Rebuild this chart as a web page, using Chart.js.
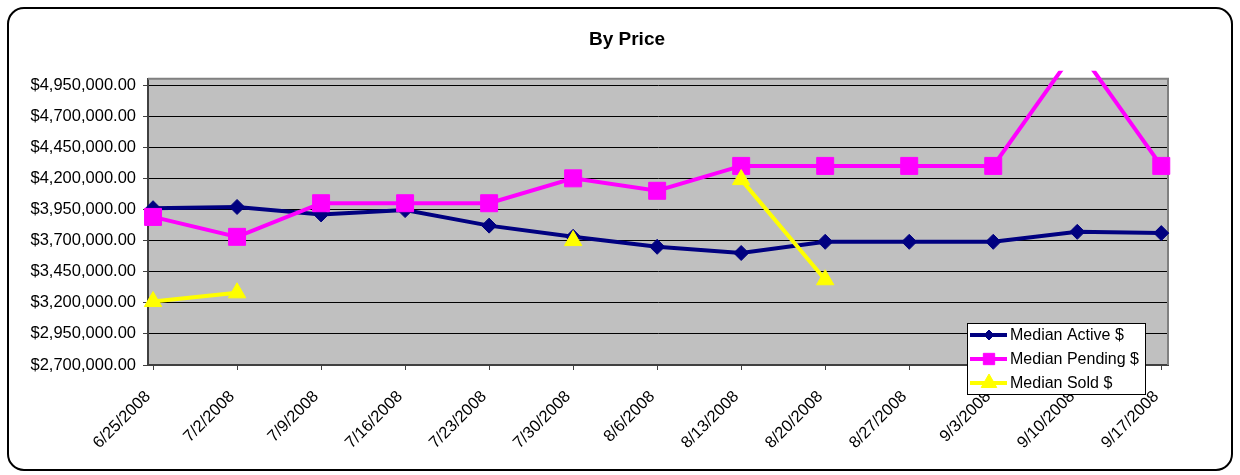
<!DOCTYPE html>
<html>
<head>
<meta charset="utf-8">
<script src="https://cdn.jsdelivr.net/npm/chart.js@4"></script>
<style>
  html, body { margin: 0; padding: 0; background: #fff; }
</style>
</head>
<body>
<canvas id="myChart" width="1240" height="475"></canvas>
<script>
// ***** data *****
var dates = ['6/25/2008', '7/2/2008', '7/9/2008', '7/16/2008', '7/23/2008', '7/30/2008', '8/6/2008',
             '8/13/2008', '8/20/2008', '8/27/2008', '9/3/2008', '9/10/2008', '9/17/2008'];
var activeValues  = [3960000, 3970000, 3910000, 3945000, 3820000, 3730000, 3650000,
                     3600000, 3690000, 3690000, 3690000, 3770000, 3760000];
var pendingValues = [3890000, 3730000, 4000000, 4000000, 4000000, 4200000, 4100000,
                     4300000, 4300000, 4300000, 4300000, 5250000, 4300000];
var soldValues    = [3210000, 3280000, null, null, null, 3700000, null,
                     4190000, 3385000, null, null, null, null];
var yTicks = [2700000, 2950000, 3200000, 3450000, 3700000, 3950000, 4200000, 4450000, 4700000, 4950000];

function money(v) {
    return '$' + Number(v).toLocaleString('en-US', { minimumFractionDigits: 2, maximumFractionDigits: 2 });
}
function points(arr) {
    return arr.map(function (v, i) { return { x: i, y: v }; });
}

Chart.defaults.font.family = '"Liberation Sans", Arial, sans-serif';
Chart.defaults.font.size = 16.5;
Chart.defaults.color = '#000';

// ***** พื้นหลัง กรอบ และ legend *****
var frame = {
    id: 'frame',
    beforeDraw: function (chart) {
        var c = chart.ctx, a = chart.chartArea;
        c.save();
        c.fillStyle = '#fff';
        c.fillRect(0, 0, chart.width, chart.height);
        // outer rounded box
        var x = 8, y = 8, w = 1224, h = 462, r = 16;
        c.beginPath();
        c.moveTo(x + r, y);
        c.arcTo(x + w, y, x + w, y + h, r);
        c.arcTo(x + w, y + h, x, y + h, r);
        c.arcTo(x, y + h, x, y, r);
        c.arcTo(x, y, x + w, y, r);
        c.closePath();
        c.lineWidth = 2;
        c.strokeStyle = '#000';
        c.stroke();
        c.fillStyle = '#c0c0c0';
        c.fillRect(a.left, a.top, a.right - a.left, a.bottom - a.top);
        c.restore();
    },
    beforeDatasetsDraw: function (chart) {
        var c = chart.ctx, a = chart.chartArea;
        c.save();
        c.strokeStyle = '#808080';
        c.lineWidth = 2;
        c.beginPath();
        c.moveTo(a.left, a.top);
        c.lineTo(a.right, a.top);
        c.lineTo(a.right, a.bottom);
        c.stroke();
        c.restore();
    },
    afterDraw: function (chart) {
        var c = chart.ctx;
        var bx = 967, by = 323, bw = 178, bh = 71;
        c.save();
        c.fillStyle = '#fff';
        c.fillRect(bx, by, bw, bh);
        c.strokeStyle = '#000';
        c.lineWidth = 1;
        c.strokeRect(bx + 0.5, by + 0.5, bw, bh);
        var sizes = [5, 8, 9];
        chart.data.datasets.forEach(function (ds, i) {
            var cy = by + 12 + i * 24;
            c.strokeStyle = ds.borderColor;
            c.lineWidth = 4;
            c.beginPath();
            c.moveTo(bx + 3, cy);
            c.lineTo(bx + 40, cy);
            c.stroke();
            c.fillStyle = ds.backgroundColor;
            c.strokeStyle = ds.borderColor;
            c.lineWidth = 1;
            Chart.helpers.drawPoint(c, { pointStyle: ds.pointStyle, radius: sizes[i], rotation: 0, borderWidth: 1 }, bx + 22, cy);
            c.fillStyle = '#000';
            c.font = '16px "Liberation Sans", Arial, sans-serif';
            c.textBaseline = 'middle';
            c.textAlign = 'left';
            c.fillText(ds.label, bx + 43, cy + 1);
        });
        c.restore();
    }
};

var ctx = document.getElementById('myChart').getContext('2d');
var chart = new Chart(ctx, {
    type: 'line',
    data: {
        datasets: [{
            label: 'Median Active $',
            data: points(activeValues),
            borderColor: '#000080',
            backgroundColor: '#000080',
            borderWidth: 4,
            pointStyle: 'rectRot',
            pointRadius: 7.5,
            pointBorderWidth: 1,
            order: 3
        }, {
            label: 'Median Pending $',
            data: points(pendingValues),
            borderColor: '#ff00ff',
            backgroundColor: '#ff00ff',
            borderWidth: 4,
            pointStyle: 'rect',
            pointRadius: 12,
            pointBorderWidth: 1,
            order: 2
        }, {
            label: 'Median Sold $',
            data: points(soldValues),
            borderColor: '#ffff00',
            backgroundColor: '#ffff00',
            borderWidth: 4,
            pointStyle: 'triangle',
            pointRadius: 10,
            pointBorderWidth: 1,
            order: 1
        }]
    },
    options: {
        responsive: false,
        animation: false,
        devicePixelRatio: 1,
        spanGaps: false,
        clip: { left: 10, top: 8, right: 10, bottom: 10 },
        layout: { padding: { top: 8, right: 0, bottom: 0, left: 14 } },
        plugins: {
            legend: { display: false },
            tooltip: { enabled: false },
            title: {
                display: true,
                text: 'By Price',
                color: '#000',
                font: { size: 19, weight: 'bold' },
                padding: { top: 20, bottom: 28 }
            }
        },
        scales: {
            x: {
                type: 'linear',
                min: -0.06,
                max: 12.08,
                afterBuildTicks: function (s) {
                    s.ticks = dates.map(function (d, i) { return { value: i }; });
                },
                afterFit: function (s) { s.height = 110; },
                ticks: {
                    callback: function (v) { return dates[v]; },
                    minRotation: 45,
                    maxRotation: 45,
                    autoSkip: false,
                    padding: 17,
                    labelOffset: -5
                },
                grid: { drawOnChartArea: false, tickLength: 5, color: '#404040' },
                border: { color: '#404040', width: 2 }
            },
            y: {
                min: 2700000,
                max: 5000000,
                afterBuildTicks: function (s) {
                    s.ticks = yTicks.map(function (v) { return { value: v }; });
                },
                afterFit: function (s) { s.width = 134; },
                ticks: { callback: money, padding: 7 },
                grid: { color: '#000', tickColor: '#404040', tickLength: 5 },
                border: { color: '#404040', width: 2 }
            },
            // empty scale that only keeps room on the right
            y2: {
                position: 'right',
                afterFit: function (s) { s.width = 72; },
                ticks: { display: false },
                grid: { display: false },
                border: { display: false }
            }
        }
    },
    plugins: [frame]
});
</script>
</body>
</html>
